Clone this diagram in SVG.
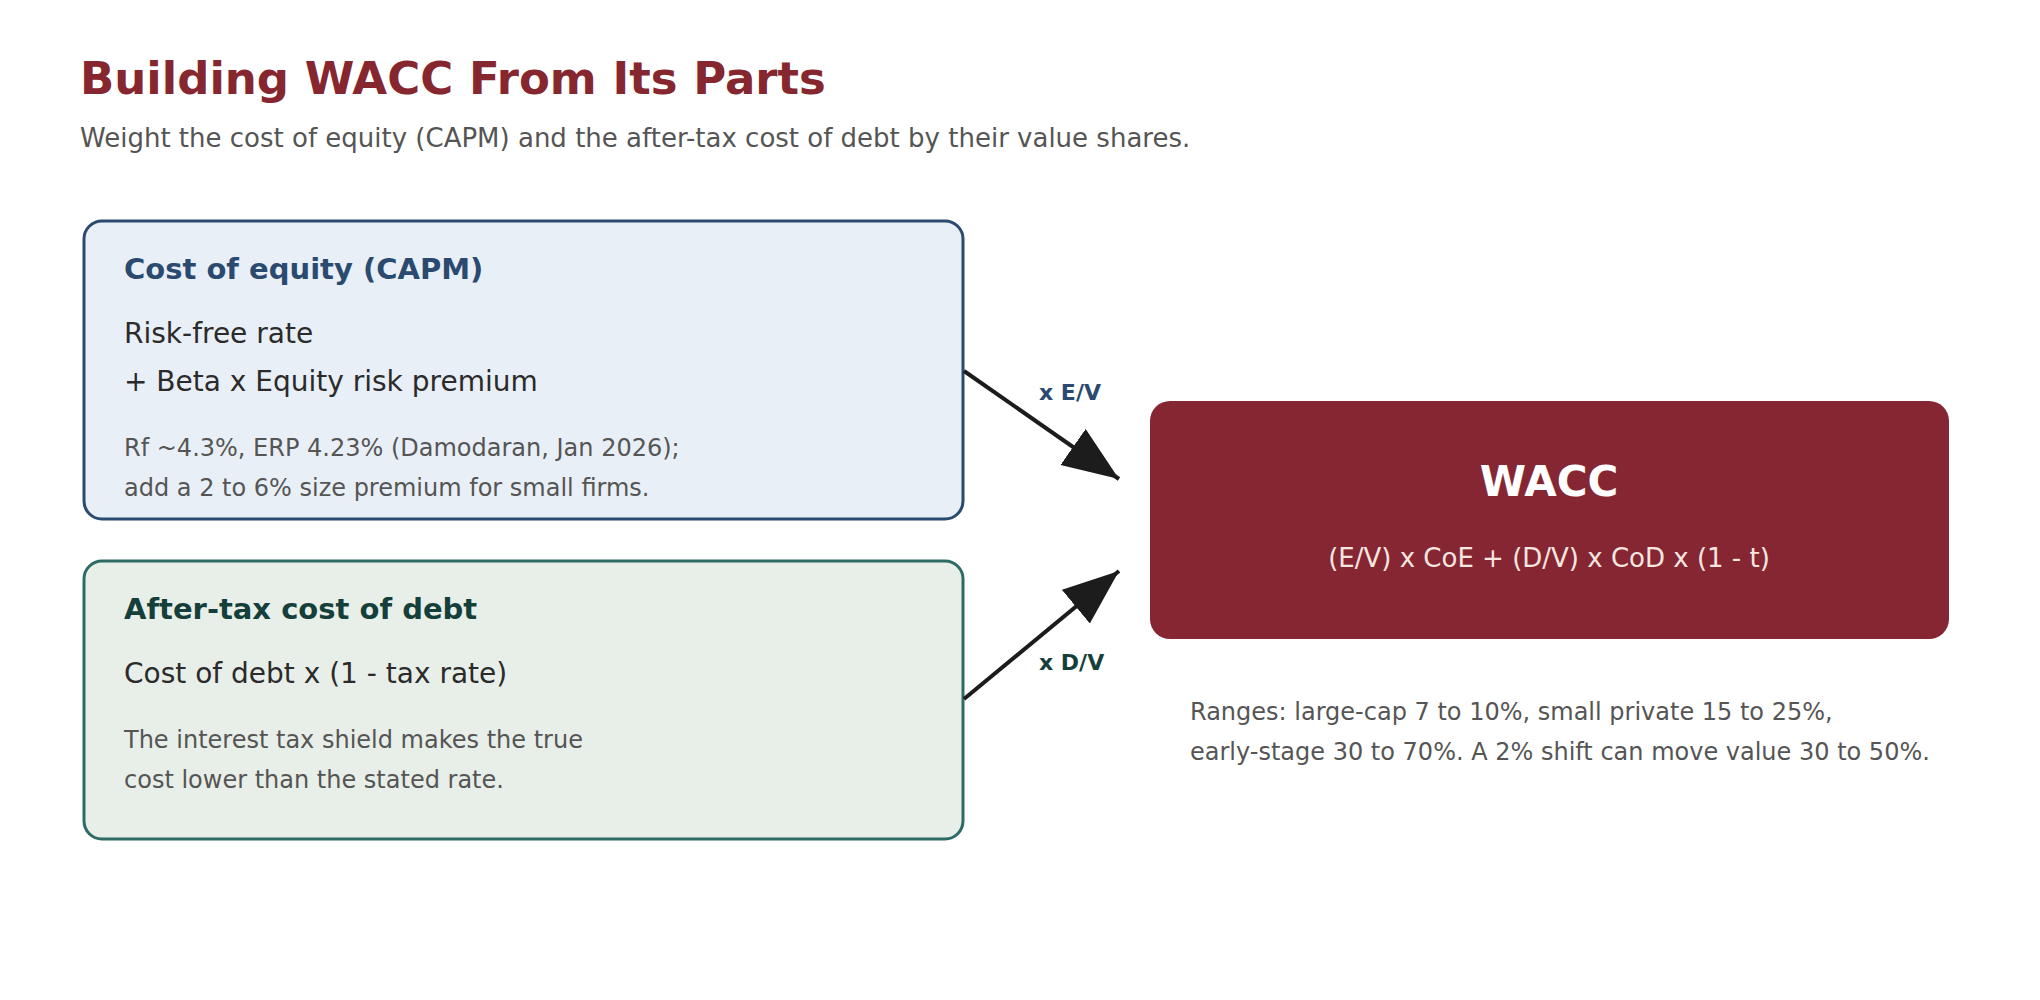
<svg xmlns="http://www.w3.org/2000/svg" width="2040" height="1000" viewBox="0 0 2040 1000">
<style>
text{font-family:"DejaVu Sans","Noto Sans",sans-serif}
.h{font-weight:bold;font-size:29px}
.b{font-size:28px;fill:#2b2b2b}
.n{font-size:24px;fill:#555}
.lbl{font-weight:bold;font-size:22px}
.c{stroke:#1c1c1c;stroke-width:4;fill:none}
</style>
<defs>
<marker id="ah" markerUnits="userSpaceOnUse" markerWidth="60" markerHeight="50" refX="56" refY="22" orient="auto"><path d="M0,0 L56,22 L0,44 Z" fill="#1c1c1c"/></marker>
</defs>
<rect width="2040" height="1000" fill="#fff"/>
<text x="80" y="94" font-size="45" font-weight="bold" fill="#86262f">Building WACC From Its Parts</text>
<text x="80" y="147" font-size="26" fill="#555">Weight the cost of equity (CAPM) and the after-tax cost of debt by their value shares.</text>
<g id="equity">
<rect x="84" y="221" width="879" height="298" rx="18" fill="#e9eff7" stroke="#2b4a6f" stroke-width="3"/>
<text x="124" y="279" class="h" fill="#2b4a6f">Cost of equity (CAPM)</text>
<text x="124" y="343" class="b">Risk-free rate</text>
<text x="124" y="391" class="b">+ Beta x Equity risk premium</text>
<text x="124" y="456" class="n">Rf ~4.3%, ERP 4.23% (Damodaran, Jan 2026);</text>
<text x="124" y="496" class="n">add a 2 to 6% size premium for small firms.</text>
</g>
<g id="debt">
<rect x="84" y="561" width="879" height="278" rx="18" fill="#e8efe8" stroke="#2e6b66" stroke-width="3"/>
<text x="124" y="619" class="h" fill="#153f3a">After-tax cost of debt</text>
<text x="124" y="683" class="b">Cost of debt x (1 - tax rate)</text>
<text x="124" y="748" class="n">The interest tax shield makes the true</text>
<text x="124" y="788" class="n">cost lower than the stated rate.</text>
</g>
<g id="wacc">
<rect x="1150" y="401" width="799" height="238" rx="20" fill="#862633"/>
<text x="1549" y="496" text-anchor="middle" font-size="42" font-weight="bold" fill="#fff">WACC</text>
<text x="1549" y="567" text-anchor="middle" font-size="26" fill="#f5e6e0">(E/V) x CoE + (D/V) x CoD x (1 - t)</text>
</g>
<g id="note">
<text x="1190" y="720" class="n">Ranges: large-cap 7 to 10%, small private 15 to 25%,</text>
<text x="1190" y="760" class="n">early-stage 30 to 70%. A 2% shift can move value 30 to 50%.</text>
</g>
<g id="connectors">
<line x1="964" y1="371" x2="1119" y2="479" class="c" marker-end="url(#ah)"/>
<line x1="964" y1="699" x2="1119" y2="571" class="c" marker-end="url(#ah)"/>
<text x="1039" y="400" class="lbl" fill="#2b4a6f">x E/V</text>
<text x="1039" y="670" class="lbl" fill="#153f3a">x D/V</text>
</g>
</svg>
